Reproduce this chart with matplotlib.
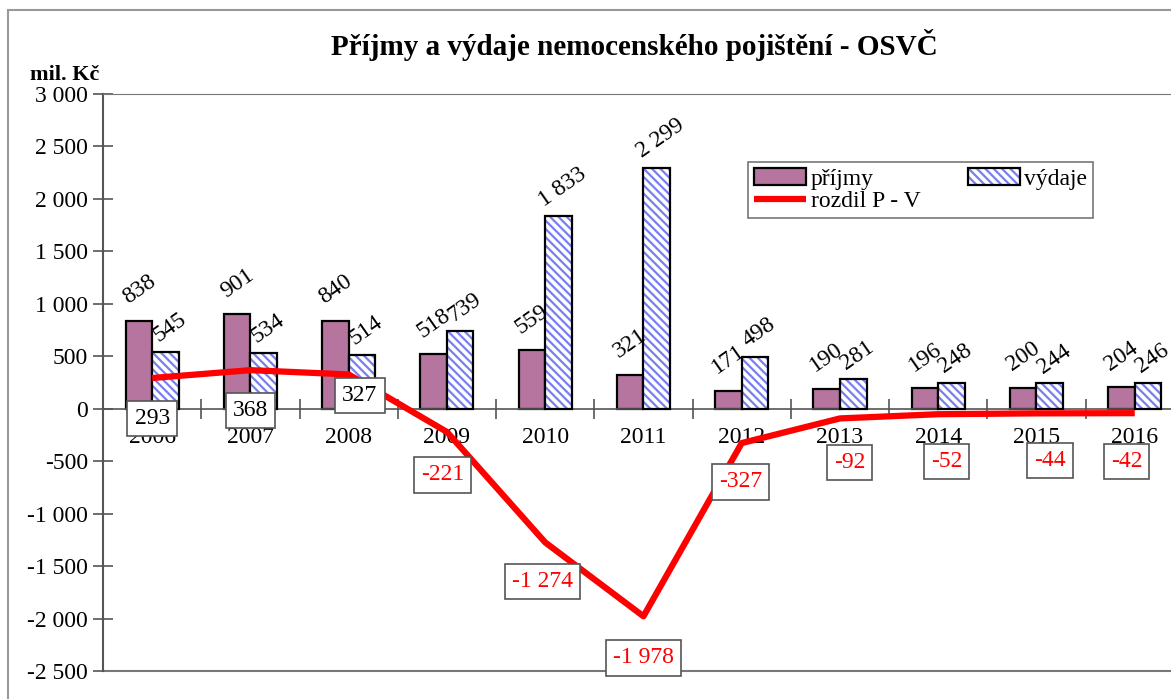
import numpy as np
import matplotlib
matplotlib.use('Agg')
import matplotlib.pyplot as plt
from matplotlib.patches import Rectangle
from matplotlib.legend_handler import HandlerTuple
from matplotlib.ticker import FuncFormatter

plt.rcParams['font.family'] = ['Liberation Serif', 'DejaVu Serif']
plt.rcParams['hatch.linewidth'] = 1.6

# data (mil. Kc)
years = ['2006', '2007', '2008', '2009', '2010', '2011', '2012', '2013', '2014', '2015', '2016']
prijmy = [838, 901, 840, 518, 559, 321, 171, 190, 196, 200, 204]
vydaje = [545, 534, 514, 739, 1833, 2299, 498, 281, 248, 244, 246]
rozdil = [293, 368, 327, -221, -1274, -1978, -327, -92, -52, -44, -42]

# label box offsets (points) for the difference labels
box_dx = [0, 0, 8, -3, -2, 0, -1, 7, 6, 10, -6]
box_dy = [-29, -29, -15, -31, -28, -30, -28, -32, -34, -34, -35]

def fmt(v):
    s = f'{abs(int(v)):,}'.replace(',', ' ')
    return ('-' if v < 0 else '') + s

fig = plt.figure(figsize=(11.71, 6.99), dpi=100)
ax = fig.add_axes([0.088, 0.040, 0.923, 0.8255])

x = np.arange(len(years))
w = 0.27
mauve = '#b5759f'
blue = '#7a7ff0'

b1 = ax.bar(x - w / 2, prijmy, w, color=mauve, edgecolor='black', linewidth=1.6, zorder=2)
b2h = ax.bar(x + w / 2, vydaje, w, color='white', edgecolor=blue, hatch='\\\\\\\\', linewidth=0, zorder=2)
b2 = ax.bar(x + w / 2, vydaje, w, fill=False, edgecolor='black', linewidth=1.6, zorder=3)
ln, = ax.plot(x, rozdil, color='#ff0000', lw=4.5, zorder=4, solid_capstyle='butt')

fs = 17
for i in range(len(years)):
    ax.annotate(fmt(prijmy[i]), (x[i] - w / 2, prijmy[i]), xytext=(0, 9), textcoords='offset points',
                ha='center', va='bottom', rotation=35, fontsize=fs, zorder=6)
    ax.annotate(fmt(vydaje[i]), (x[i] + w / 2, vydaje[i]), xytext=(3, 4), textcoords='offset points',
                ha='center', va='bottom', rotation=35, fontsize=fs, zorder=6)
    col = 'black' if rozdil[i] > 0 else '#ff0000'
    ax.annotate(fmt(rozdil[i]), (x[i], rozdil[i]), xytext=(box_dx[i], box_dy[i]), textcoords='offset points',
                ha='center', va='center', fontsize=fs, color=col, zorder=7,
                bbox=dict(boxstyle='square,pad=0.3', fc='white', ec='#555555', lw=1.2))

ax.set_xlim(-0.5, len(years) - 0.5)
ax.set_ylim(-2500, 3000)
ax.set_yticks(np.arange(-2500, 3001, 500))
ax.yaxis.set_major_formatter(FuncFormatter(lambda v, p: fmt(v)))
ax.tick_params(axis='y', direction='inout', length=14, width=1.2, labelsize=fs, pad=4, color='#555555')

# category axis on the zero line
ax.spines['bottom'].set_position(('data', 0))
ax.spines['bottom'].set_color('#555555')
ax.spines['bottom'].set_linewidth(1.2)
ax.set_xticks(x)
ax.set_xticklabels(years)
ax.set_xticks(np.arange(0.5, len(years) - 0.5, 1), minor=True)
ax.tick_params(axis='x', which='major', length=0, labelsize=fs, pad=13)
ax.tick_params(axis='x', which='minor', direction='inout', length=15, width=1.2, color='#555555')
for t in ax.get_xticklabels():
    t.set_zorder(1)

ax.spines['left'].set_color('#555555')
ax.spines['left'].set_linewidth(1.5)
ax.spines['top'].set_color('#777777')
ax.spines['right'].set_visible(False)
ax.axhline(-2500, color='#777777', lw=1.5, clip_on=False)

# order so that 'výdaje' sits in the second column of the first row
leg = ax.legend([b1, ln, (b2h, b2)], ['příjmy', 'rozdil P - V', 'výdaje'],
                handler_map={tuple: HandlerTuple(ndivide=1, pad=0)},
                ncol=2, loc='upper left', bbox_to_anchor=(0.597, 0.882), fontsize=fs,
                frameon=True, fancybox=False, edgecolor='#555555', handlelength=2.2,
                handletextpad=0.2, columnspacing=2.0, labelspacing=0.05, borderpad=0.25,
                borderaxespad=0)
leg.get_frame().set_linewidth(1.2)
leg.set_zorder(8)

fig.text(0.542, 0.935, 'Příjmy a výdaje nemocenského pojištění - OSVČ', ha='center', va='center',
         fontsize=21, fontweight='bold')
fig.text(0.055, 0.893, 'mil. Kč', ha='center', va='center', fontsize=16, fontweight='bold')

fig.patches.append(Rectangle((8 / 1171, -0.02), 1.0, 1 - 10 / 699 + 0.02, transform=fig.transFigure,
                             fill=False, ec='#999999', lw=1.5))

fig.savefig('out.png', dpi=100)
